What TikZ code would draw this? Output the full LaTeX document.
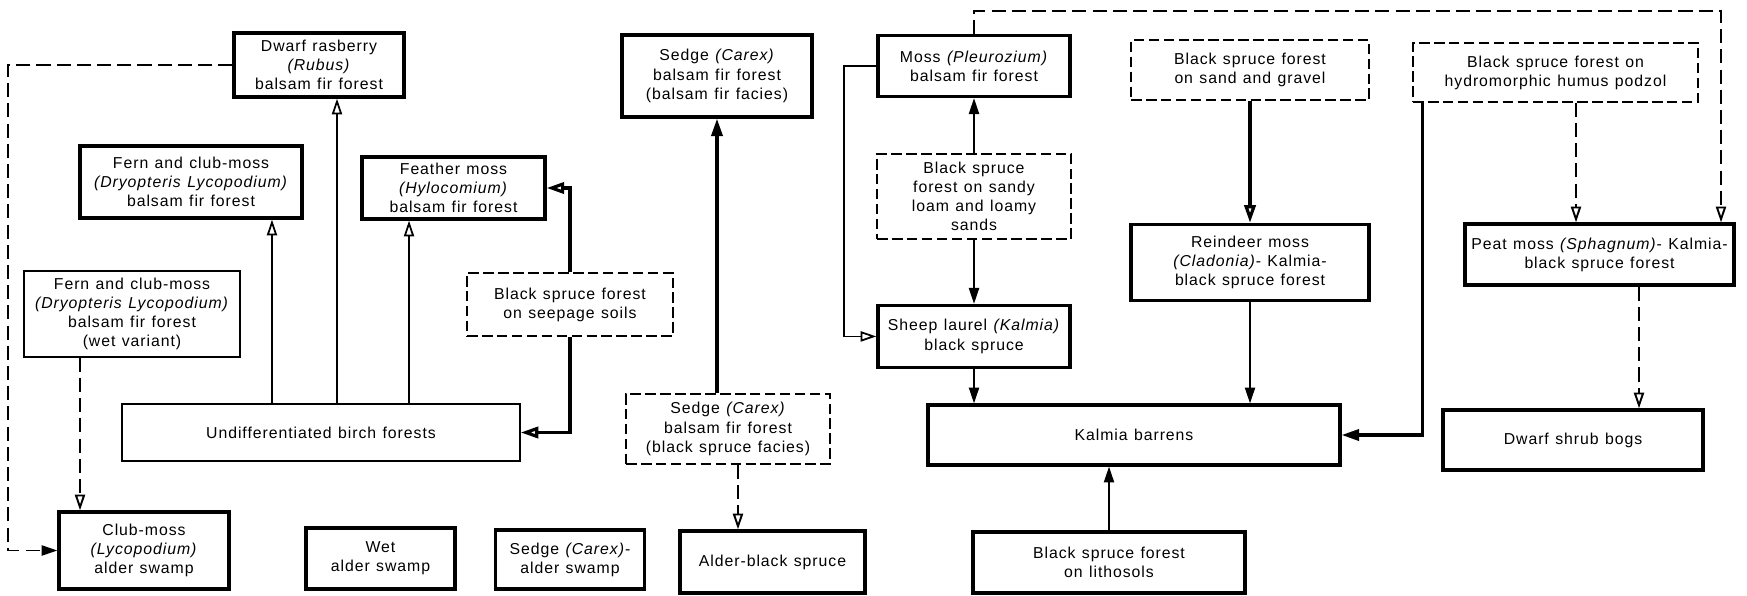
\documentclass[tikz,border=0pt]{standalone}
\usepackage{fontspec}
\setmainfont{Liberation Sans}[LetterSpace=6.0,WordSpace=1.2]
\usetikzlibrary{arrows.meta, positioning}
\tikzset{
    box/.style={
        draw,
        line width=1.9pt,
        align=center,
        inner sep=2pt
    },
    thinbox/.style={
        draw,
        line width=0.9pt,
        align=center,
        inner sep=2pt
    },
    dashbox/.style={
        draw,
        line width=0.9pt,
        dash pattern=on 6pt off 2.5pt,
        align=center,
        inner sep=2pt
    },
    line/.style={-{Triangle[length=9pt,width=5.8pt]}, line width=1pt},
    openline/.style={-{Triangle[open,length=9pt,width=5.8pt]}, line width=1pt},
    heavyline/.style={-{Triangle[length=10pt,width=6.4pt]}, line width=1.8pt},
    heavyopen/.style={-{Triangle[open,length=10pt,width=6.4pt]}, line width=1.8pt},
    dashedline/.style={line, line width=1.1pt, dash pattern=on 8pt off 3.5pt},
    dashedopen/.style={openline, line width=1.1pt, dash pattern=on 8pt off 3.5pt},
    every node/.style={font=\fontsize{9}{10.9}\selectfont}
}

\begin{document}
\begin{tikzpicture}[x=0.02cm, y=-0.02cm]
\useasboundingbox (0,0) rectangle (1747,595);

% balsam fir side
\node[box, minimum width=3.4cm, minimum height=1.28cm] (rubus) at (319,65) {Dwarf rasberry\\\textit{(Rubus)}\\balsam fir forest};
\node[box, minimum width=4.44cm, minimum height=1.44cm] (fernA) at (191,182) {Fern and club-moss\\\textit{(Dryopteris Lycopodium)}\\balsam fir forest};
\node[box, minimum width=3.66cm, minimum height=1.24cm] (feather) at (453.5,188) {Feather moss\\\textit{(Hylocomium)}\\balsam fir forest};
\node[thinbox, minimum width=4.32cm, minimum height=1.72cm] (fernB) at (132,314) {Fern and club-moss\\\textit{(Dryopteris Lycopodium)}\\balsam fir forest\\(wet variant)};
\node[dashbox, minimum width=4.12cm, minimum height=1.26cm] (seepage) at (570,304.5) {Black spruce forest\\on seepage soils};
\node[thinbox, minimum width=7.96cm, minimum height=1.14cm] (birch) at (321,432.5) {Undifferentiated birch forests};

\node[box, minimum width=3.4cm, minimum height=1.54cm] (clubmoss) at (144,550.5) {Club-moss\\\textit{(Lycopodium)}\\alder swamp};
\node[box, minimum width=2.98cm, minimum height=1.22cm] (wet) at (380.5,558.5) {Wet\\alder swamp};
\node[box, minimum width=2.98cm, minimum height=1.18cm] (sedgealder) at (570,559.5) {Sedge \textit{(Carex)}-\\alder swamp};

\node[box, minimum width=3.8cm, minimum height=1.64cm] (sedgeA) at (717,76) {Sedge \textit{(Carex)}\\balsam fir forest\\(balsam fir facies)};
\node[dashbox, minimum width=4.08cm, minimum height=1.4cm] (sedgeB) at (728,429) {Sedge \textit{(Carex)}\\balsam fir forest\\(black spruce facies)};
\node[box, minimum width=3.7cm, minimum height=1.24cm] (alder) at (772.5,562) {Alder-black spruce};

% black spruce side
\node[dashbox, minimum width=3.88cm, minimum height=1.7cm] (loam) at (974,196.5) {Black spruce\\forest on sandy\\loam and loamy\\sands};
\node[box, above=1.1cm of loam, minimum width=3.84cm, minimum height=1.22cm] (moss) {Moss \textit{(Pleurozium)}\\balsam fir forest};
\node[box, below=1.28cm of loam, minimum width=3.84cm, minimum height=1.24cm] (sheep) {Sheep laurel \textit{(Kalmia)}\\black spruce};
\node[box, minimum width=8.24cm, minimum height=1.2cm] (kalmia) at (1134,435) {Kalmia barrens};
\node[box, minimum width=5.44cm, minimum height=1.22cm] (lithosols) at (1109,562.5) {Black spruce forest\\on lithosols};

\node[dashbox, minimum width=4.76cm, minimum height=1.2cm] (sand) at (1250,70) {Black spruce forest\\on sand and gravel};
\node[box, below=2.44cm of sand, minimum width=4.76cm, minimum height=1.52cm] (reindeer) {Reindeer moss\\\textit{(Cladonia)}- Kalmia-\\black spruce forest};
\node[dashbox, minimum width=5.7cm, minimum height=1.18cm] (hydro) at (1555.5,72.5) {Black spruce forest on\\hydromorphic humus podzol};
\node[box, minimum width=5.38cm, minimum height=1.22cm] (peat) at (1599.5,254.5) {Peat moss \textit{(Sphagnum)}- Kalmia-\\black spruce forest};
\node[box, minimum width=5.2cm, minimum height=1.2cm] (bogs) at (1573,440) {Dwarf shrub bogs};

% bends and offsets
\coordinate (fa) at ([xshift=1.62cm]fernA.south);
\coordinate (ru) at ([xshift=0.36cm]rubus.south);
\coordinate (fe) at ([xshift=-0.89cm]feather.south);
\coordinate (fb) at ([xshift=-1.04cm]fernB.south);
\coordinate (lside) at (8,300);
\coordinate (sb) at ([xshift=0.2cm]sedgeB.south);
\coordinate (mside) at (844,200);
\coordinate (tr) at (1721,11);
\coordinate (hk) at ([xshift=0.2cm]hydro.south west);
\coordinate (hp) at ([xshift=0.41cm]hydro.south);
\coordinate (pb) at ([xshift=0.79cm]peat.south);

\draw[openline] (birch.north -| fa) -- (fa);
\draw[openline] (birch.north -| ru) -- (ru);
\draw[openline] (birch.north -| fe) -- (fe);
\draw[heavyopen] (seepage.north) |- (feather.east);
\draw[heavyopen] (seepage.south) |- (birch.east);
\draw[dashedopen] (fb) -- (fb |- clubmoss.north);
\draw[dashedline] (rubus.west) -| (lside) |- (clubmoss.west);

\draw[heavyline] (sedgeB.north -| sedgeA.south) -- (sedgeA.south);
\draw[dashedopen] (sb) -- (sb |- alder.north);

\draw[line] (loam.north) -- (moss.south);
\draw[line] (loam.south) -- (sheep.north);
\draw[openline] (moss.west) -| (mside) |- (sheep.west);
\draw[line] (sheep.south) -- (sheep.south |- kalmia.north);
\draw[line] (lithosols.north) -- (lithosols.north |- kalmia.south);
\draw[dashedopen] (moss.north) |- (tr) -- (tr |- peat.north);

\draw[heavyopen] (sand.south) -- (reindeer.north);
\draw[line] (reindeer.south) -- (reindeer.south |- kalmia.north);
\draw[heavyline] (hk) |- (kalmia.east);
\draw[dashedopen] (hp) -- (hp |- peat.north);
\draw[dashedopen] (pb) -- (pb |- bogs.north);
\end{tikzpicture}
\end{document}
